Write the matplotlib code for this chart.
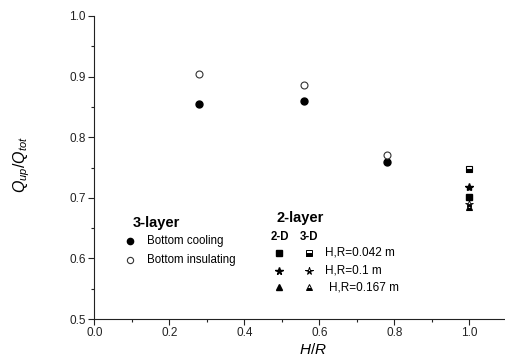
import matplotlib
matplotlib.use("Agg")
import matplotlib.pyplot as plt
from matplotlib.ticker import MultipleLocator

plt.rcParams['font.family'] = ['Liberation Sans', 'DejaVu Sans']
plt.rcParams['mathtext.fontset'] = 'custom'
plt.rcParams['mathtext.rm'] = 'Liberation Sans'
plt.rcParams['mathtext.it'] = 'Liberation Sans:italic'

# 3-layer data
hr_3layer = [0.28, 0.56, 0.78]
bottom_cooling = [0.854, 0.860, 0.759]
bottom_insulating = [0.905, 0.886, 0.771]

# 2-layer data at H/R = 1.0
hr_2layer = 1.0
sq_2d, sq_3d = 0.701, 0.748
star_2d, star_3d = 0.717, 0.689
tri_3d = 0.684

fig = plt.figure(figsize=(5.05, 3.59), dpi=100)
ax = fig.add_axes([94.3 / 505, 40 / 359, 412.5 / 505, 303 / 359])

ms = 5
ax.plot(hr_3layer, bottom_cooling, 'o', color='black', ms=ms)
ax.plot(hr_3layer, bottom_insulating, 'o', mfc='white', mec='#333333', mew=0.8, ms=ms)

ax.plot(hr_2layer, sq_3d, 's', color='black', fillstyle='bottom', mfc='black', mfcalt='white', mew=0.8, ms=4.5)
ax.plot(hr_2layer, star_2d, '*', color='black', ms=6)
ax.plot(hr_2layer, sq_2d, 's', color='black', ms=4.5)
ax.plot(hr_2layer, tri_3d, '^', color='black', fillstyle='bottom', mfcalt='white', mew=0.8, ms=4.5)
ax.plot(hr_2layer, star_3d, '*', color='black', fillstyle='bottom', mfcalt='white', mew=0.6, ms=6)

# hand made legend, 3-layer
ax.text(0.103, 0.658, '3-layer', fontsize=10.5, fontweight='bold', va='center')
ax.plot(0.095, 0.628, 'o', color='black', ms=4.5)
ax.plot(0.095, 0.597, 'o', mfc='white', mec='#333333', mew=0.8, ms=4.5)
ax.text(0.14, 0.628, 'Bottom cooling', fontsize=8.3, va='center')
ax.text(0.14, 0.597, 'Bottom insulating', fontsize=8.3, va='center')

# hand made legend, 2-layer
ax.text(0.486, 0.667, '2-layer', fontsize=10.5, fontweight='bold', va='center')
ax.text(0.470, 0.636, '2-D', fontsize=8.3, fontweight='bold', va='center')
ax.text(0.548, 0.636, '3-D', fontsize=8.3, fontweight='bold', va='center')
rows = [0.609, 0.580, 0.552]
labels = ['H,R=0.042 m', 'H,R=0.1 m', 'H,R=0.167 m']
label_x = [0.615, 0.615, 0.626]
marks = ['s', '*', '^']
sizes = [4, 5.5, 4.5]
for y, lab, lx, m, s in zip(rows, labels, label_x, marks, sizes):
    ax.plot(0.493, y, m, color='black', ms=s)
    ax.plot(0.573, y, m, color='black', fillstyle='bottom', mfcalt='white', mew=0.7, ms=s)
    ax.text(lx, y, lab, fontsize=8.5, va='center')

ax.set_xlim(0, 1.1)
ax.set_ylim(0.5, 1.0)
ax.xaxis.set_major_locator(MultipleLocator(0.2))
ax.xaxis.set_minor_locator(MultipleLocator(0.1))
ax.yaxis.set_major_locator(MultipleLocator(0.1))
ax.yaxis.set_minor_locator(MultipleLocator(0.05))
ax.xaxis.set_major_formatter(matplotlib.ticker.FormatStrFormatter('%.1f'))
ax.yaxis.set_major_formatter(matplotlib.ticker.FormatStrFormatter('%.1f'))

for s in ['top', 'right']:
    ax.spines[s].set_visible(False)
for s in ['left', 'bottom']:
    ax.spines[s].set_linewidth(0.8)
    ax.spines[s].set_color('#222222')

ax.tick_params(which='major', direction='out', length=4, width=0.8, labelsize=8.5,
               colors='#222222', pad=2)
ax.tick_params(which='minor', direction='out', length=2.5, width=0.8, colors='#222222')

ax.set_xlabel('$H/R$', fontsize=11)
ax.xaxis.set_label_coords(0.53, -0.075)
ax.set_ylabel('$Q_{up}/Q_{tot}$', fontsize=11.5)
ax.yaxis.set_label_coords(-0.15, 0.51)

fig.savefig('out.png', dpi=100)
